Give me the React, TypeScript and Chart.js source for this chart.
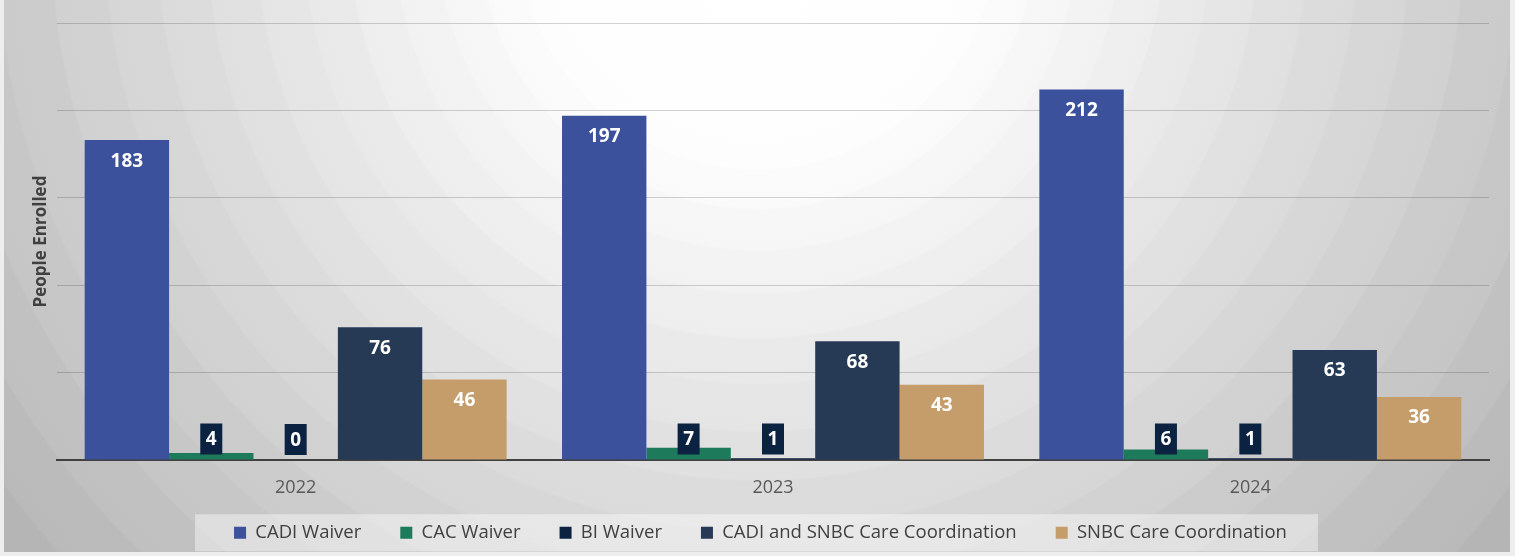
import React, { useEffect, useRef } from "react";
import { Chart, registerables } from "chart.js";

Chart.register(...registerables);

const categories = ["2022", "2023", "2024"];
const seriesNames = [
  "CADI Waiver",
  "CAC Waiver",
  "BI Waiver",
  "CADI and SNBC Care Coordination",
  "SNBC Care Coordination",
];
const cadiWaiver = [183, 197, 212];
const cacWaiver = [4, 7, 6];
const biWaiver = [0, 1, 1];
const cadiSnbcCare = [76, 68, 63];
const snbcCare = [46, 43, 36];
const seriesColors = ["#3c519c", "#1d7a5b", "#0b2240", "#263a55", "#c49d6b"];
const yAxisTitle = "People Enrolled";
const yMax = 250;
const yStep = 50;
const FONT = "'Open Sans', 'Noto Sans', sans-serif";
const LEGEND_SHIFT_Y = -19.5;
const LEGEND_SHIFT_X = 16;

const backgroundPlugin = {
  id: "bgRings",
  beforeDraw(chart: any) {
    const { ctx, width, height } = chart;
    ctx.save();
    ctx.fillStyle = "#eeeeee";
    ctx.fillRect(0, 0, width, height);
    const cx = width / 2;
    const cy = -70;
    const R = 1050;
    const g = ctx.createRadialGradient(cx, cy, 0, cx, cy, R);
    g.addColorStop(0, "#ffffff");
    const start = 240;
    const step = 40;
    g.addColorStop(start / R - 0.001, "#fdfdfd");
    let r = start;
    let k = 0;
    while (r < R) {
      const next = Math.min(r + step + k * 1.5, R);
      const b = Math.max(168, Math.round(251 - (r - start) * 0.1));
      const c1 = `rgb(${b},${b},${b})`;
      const c2 = `rgb(${b - 1},${b - 1},${b - 1})`;
      g.addColorStop(r / R, c1);
      g.addColorStop(Math.max(r / R, next / R - 0.002), c2);
      r = next;
      k++;
    }
    ctx.fillStyle = g;
    ctx.fillRect(4, 0, width - 9, height - 4);

    // legend backdrop
    const lg = chart.legend;
    if (lg && lg.legendHitBoxes && lg.legendHitBoxes.length) {
      const hb = lg.legendHitBoxes;
      const first = hb[0];
      const last = hb[hb.length - 1];
      const left = first.left - 39 + LEGEND_SHIFT_X;
      const right = last.left + last.width + 31 + LEGEND_SHIFT_X;
      const cyL = first.top + first.height / 2 + LEGEND_SHIFT_Y;
      ctx.fillStyle = "rgba(255,255,255,0.42)";
      ctx.fillRect(left, cyL - 18.5, right - left, 37);
    }
    ctx.restore();
  },
};

const legendShiftPlugin = {
  id: "legendShift",
  afterInit(chart: any) {
    const lg = chart.legend;
    if (!lg || lg.__shifted) return;
    const origDraw = lg.draw.bind(lg);
    lg.draw = function () {
      const saved = { top: lg.top, left: lg.left, height: lg.height, width: lg.width };
      lg.top = saved.top + LEGEND_SHIFT_Y;
      lg.height = lg.bottom - lg.top;
      lg.left = saved.left + 2 * LEGEND_SHIFT_X;
      lg.width = lg.right - lg.left;
      origDraw();
      lg.top = saved.top;
      lg.height = saved.height;
      lg.left = saved.left;
      lg.width = saved.width;
    };
    lg.__shifted = true;
  },
};

const dataLabelPlugin = {
  id: "valueLabels",
  afterDraw(chart: any) {
    const { ctx } = chart;
    ctx.save();
    ctx.font = `bold 19px ${FONT}`;
    ctx.textAlign = "center";
    ctx.textBaseline = "middle";
    chart.data.datasets.forEach((ds: any, i: number) => {
      const meta = chart.getDatasetMeta(i);
      meta.data.forEach((bar: any, j: number) => {
        const v = ds.data[j];
        const label = String(v);
        if (v < 10) {
          const bw = 22;
          const bh = 31;
          const bottom = bar.base - 5;
          ctx.fillStyle = "#0b2240";
          ctx.fillRect(bar.x - bw / 2, bottom - bh, bw, bh);
          ctx.fillStyle = "#ffffff";
          ctx.fillText(label, bar.x, bottom - bh / 2 + 1);
        } else {
          ctx.fillStyle = "#ffffff";
          ctx.fillText(label, bar.x, bar.y + 21);
        }
      });
    });
    ctx.restore();
  },
};

export default function App() {
  const canvasRef = useRef<HTMLCanvasElement | null>(null);

  useEffect(() => {
    document.body.style.margin = "0";
    const canvas = canvasRef.current;
    if (!canvas) return;
    const values = [cadiWaiver, cacWaiver, biWaiver, cadiSnbcCare, snbcCare];
    const chart = new Chart(canvas, {
      type: "bar",
      data: {
        labels: categories,
        datasets: values.map((d, i) => ({
          label: seriesNames[i],
          data: d,
          backgroundColor: seriesColors[i],
          borderWidth: 0,
          categoryPercentage: 0.884,
          barPercentage: 1.0,
        })),
      },
      options: {
        responsive: false,
        animation: false,
        devicePixelRatio: 1,
        layout: { padding: { left: 0, right: 26, top: 23, bottom: 0 } },
        scales: {
          x: {
            grid: { display: false, drawTicks: false },
            border: { display: true, color: "#404040", width: 2 },
            ticks: {
              color: "#595959",
              font: { family: FONT, size: 18 },
              padding: 17,
            },
            afterFit(scale: any) {
              scale.height = 44;
            },
          },
          y: {
            min: 0,
            max: yMax,
            z: 1,
            ticks: { display: false, stepSize: yStep },
            grid: { color: "rgba(0,0,0,0.17)", lineWidth: 1, drawTicks: false },
            border: { display: false },
            title: {
              display: true,
              text: yAxisTitle,
              color: "#404040",
              font: { family: FONT, size: 17, weight: "bold" },
              padding: { top: 31, bottom: 0 },
            },
            afterFit(scale: any) {
              scale.width = 57;
            },
          },
        },
        plugins: {
          legend: {
            position: "bottom",
            maxHeight: 52,
            labels: {
              color: "#404040",
              font: { family: FONT, size: 18.5 },
              boxWidth: 12,
              boxHeight: 12,
              padding: 39,
            },
          },
          tooltip: { enabled: false },
        },
      } as any,
      plugins: [backgroundPlugin, legendShiftPlugin, dataLabelPlugin],
    });
    return () => chart.destroy();
  }, []);

  return (
    <div style={{ width: 1515, height: 556 }}>
      <canvas ref={canvasRef} width={1515} height={556} />
    </div>
  );
}
